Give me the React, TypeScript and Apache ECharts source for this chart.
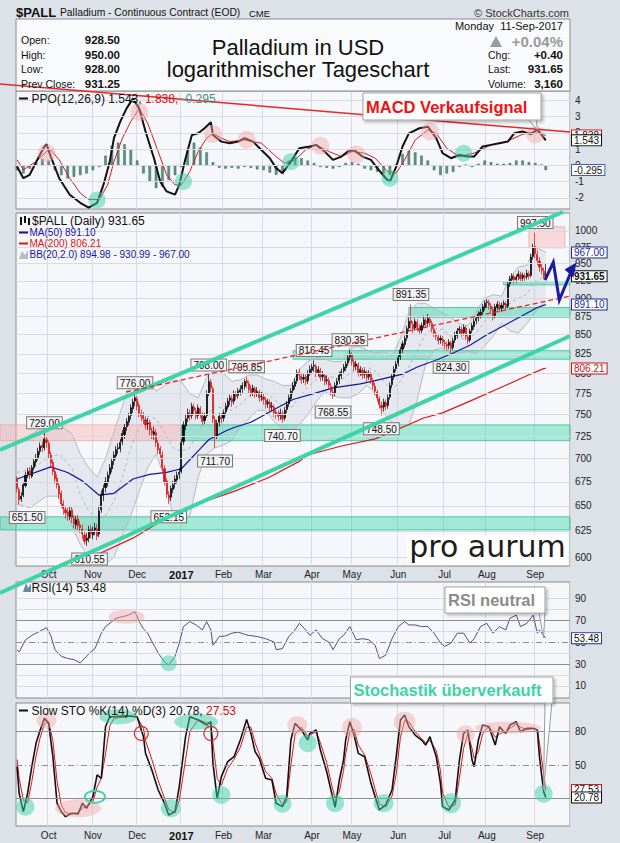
import React, { useEffect, useRef } from "react";
import * as echarts from "echarts";

// ---------- axis / tick data ----------
const SLOTS = 263; // 252 trading days (12-Sep-2016 .. 11-Sep-2017) + empty right margin
const monthIdx = [15, 36, 57, 78, 98, 117, 140, 159, 181, 203, 223, 246];
const monthLbl = ["Oct", "Nov", "Dec", "2017", "Feb", "Mar", "Apr", "May", "Jun", "Jul", "Aug", "Sep"];
const priceTicks = [600, 625, 650, 675, 700, 725, 750, 775, 800, 825, 850, 875, 900, 925, 950, 975, 1000];
const ppoTicks = [-2, -1, 0, 1, 2, 3, 4];
const rsiGrid = [10, 20, 30, 40, 50, 60, 70, 80, 90];
const rsiLabels = [10, 30, 50, 70, 90];
const stoLabels = [20, 50, 80];

// ---------- price candles [open, close, low, high] ----------
const candles: number[][] = [
  [678, 668, 664, 681], [667, 656, 651.5, 669], [657, 660, 654, 664], [661, 672, 659, 675], [671, 682, 669, 686],
  [683, 686, 679, 690], [687, 682, 678, 691], [681, 690, 679, 693], [690, 697, 687, 700], [696, 700, 692, 705],
  [701, 708, 698, 712], [708, 714, 704, 718], [715, 712, 707, 719], [712, 722, 709, 729], [721, 718, 712, 725],
  [717, 705, 700, 720], [704, 695, 690, 708], [696, 686, 682, 699], [686, 678, 673, 690], [679, 672, 668, 683],
  [671, 662, 657, 675], [663, 652, 648, 666], [652, 647, 641, 656], [646, 643, 637, 650], [644, 640, 635, 648],
  [639, 645, 636, 650], [646, 638, 633, 649], [637, 632, 628, 641], [631, 636, 627, 640], [637, 630, 626, 641],
  [631, 628, 623, 635], [627, 622, 617, 631], [621, 615, 612, 624], [616, 618, 610.55, 623], [618, 626, 614, 630],
  [627, 622, 618, 631],
  [621, 625, 617, 629], [626, 628, 621, 633], [627, 620, 616, 632], [622, 645, 619, 650], [646, 662, 643, 666],
  [661, 668, 655, 672], [669, 675, 664, 680], [674, 682, 670, 686], [683, 690, 679, 694], [689, 697, 685, 701],
  [698, 704, 693, 708], [703, 710, 699, 714], [711, 712, 705, 717], [711, 718, 707, 722], [719, 728, 715, 732],
  [727, 735, 722, 739], [736, 742, 731, 746], [741, 748, 737, 752], [749, 758, 744, 762], [757, 765, 752, 769],
  [766, 770, 760, 776],
  [769, 760, 755, 772], [761, 752, 747, 765], [751, 748, 742, 756], [749, 745, 739, 753], [744, 738, 733, 748],
  [739, 740, 732, 746], [741, 732, 726, 744], [731, 728, 722, 735], [727, 730, 721, 736], [729, 718, 713, 733],
  [717, 710, 705, 721], [711, 705, 700, 714], [704, 690, 686, 708], [689, 675, 671, 693], [676, 662, 658, 679],
  [661, 658, 652.15, 665], [659, 668, 655, 671], [667, 672, 663, 676], [673, 678, 668, 682], [677, 682, 673, 686],
  [683, 685, 678, 690],
  [686, 718, 684, 722], [719, 738, 715, 742], [737, 745, 732, 750], [746, 752, 741, 757], [751, 748, 743, 756],
  [749, 760, 745, 764], [759, 755, 750, 763], [754, 748, 744, 758], [749, 758, 745, 762], [757, 750, 746, 760],
  [749, 742, 738, 753], [743, 748, 739, 752], [749, 775, 746, 779], [776, 790, 772, 798], [789, 782, 777, 793],
  [781, 745, 740, 784], [744, 725, 711.7, 748], [726, 740, 722, 744], [741, 748, 736, 752], [747, 745, 740, 751],
  [746, 752, 742, 756], [753, 760, 749, 764], [759, 766, 756, 770], [767, 770, 761, 774], [769, 765, 759, 773],
  [766, 775, 762, 779], [774, 772, 767, 778], [773, 778, 769, 782], [777, 780, 773, 785], [781, 785, 776, 789],
  [784, 790, 780, 793], [791, 788, 782, 795.85], [787, 780, 775, 791], [781, 776, 771, 785], [777, 782, 772, 786],
  [781, 775, 770, 784], [776, 778, 771, 783], [777, 770, 765, 780], [771, 772, 766, 777],
  [771, 768, 762, 775], [767, 762, 757, 771], [763, 765, 758, 769], [764, 758, 753, 768], [759, 760, 754, 765],
  [759, 752, 747, 762], [753, 750, 745, 756], [751, 748, 743, 755], [749, 752, 744, 757], [751, 745, 740.7, 755],
  [746, 755, 743, 759], [756, 762, 752, 766], [763, 770, 759, 774], [769, 778, 766, 782], [779, 785, 774, 789],
  [784, 790, 780, 794], [791, 800, 787, 805], [801, 798, 792, 806], [797, 792, 787, 801], [793, 795, 788, 800],
  [796, 790, 785, 799], [791, 800, 787, 804], [801, 805, 797, 810],
  [804, 808, 799, 812], [809, 810, 802, 816.45], [809, 800, 795, 812], [801, 805, 796, 809], [804, 795, 790, 807],
  [796, 798, 791, 803], [797, 790, 785, 800], [791, 792, 786, 797], [791, 785, 780, 795], [784, 778, 773, 788],
  [777, 775, 768.55, 781], [776, 785, 772, 789], [786, 790, 782, 794], [791, 798, 787, 802], [797, 802, 793, 806],
  [803, 808, 799, 812], [807, 812, 803, 816], [813, 820, 809, 824], [821, 825, 816, 830.35],
  [824, 815, 810, 827], [814, 808, 803, 818], [809, 812, 804, 816], [811, 800, 796, 814], [801, 805, 797, 809],
  [804, 798, 793, 807], [799, 802, 794, 806], [801, 795, 790, 804], [796, 800, 792, 804], [799, 792, 787, 802],
  [791, 785, 780, 794], [784, 778, 773, 788], [777, 770, 765, 780], [769, 762, 757, 772], [761, 758, 748.5, 765],
  [759, 765, 754, 769], [764, 760, 755, 768], [761, 770, 757, 774], [771, 785, 768, 789], [786, 795, 782, 799],
  [796, 805, 792, 809], [806, 812, 802, 816],
  [813, 820, 809, 824], [821, 830, 817, 834], [831, 838, 826, 842], [837, 845, 833, 849], [846, 858, 842, 862],
  [859, 868, 854, 873], [869, 865, 858, 891.35], [864, 858, 852, 868], [859, 868, 855, 872], [867, 860, 855, 871],
  [859, 855, 850, 864], [856, 862, 852, 866], [863, 870, 859, 876], [869, 865, 860, 873], [866, 872, 862, 878],
  [871, 866, 861, 874], [865, 858, 853, 869], [857, 852, 847, 861], [851, 848, 843, 855], [847, 842, 837, 851],
  [843, 845, 838, 849], [844, 840, 835, 848],
  [839, 838, 832, 843], [837, 835, 829, 841], [836, 840, 831, 844], [839, 832, 824.3, 842], [833, 842, 830, 846],
  [843, 850, 839, 854], [849, 855, 845, 859], [856, 858, 851, 862], [857, 852, 847, 861], [853, 860, 849, 864],
  [859, 848, 843, 862], [847, 842, 837, 850], [843, 855, 840, 858], [856, 862, 852, 866], [861, 868, 857, 872],
  [869, 872, 864, 876], [873, 878, 868, 882], [877, 880, 872, 885], [881, 888, 877, 892], [887, 893, 883, 897],
  [894, 895, 887, 899], [894, 890, 884, 898], [889, 885, 879, 893], [884, 875, 869, 888], [876, 888, 872, 892],
  [887, 892, 883, 896], [891, 885, 880, 895], [886, 890, 881, 894], [891, 893, 886, 897], [892, 888, 883, 896],
  [889, 920, 886, 924], [921, 928, 916, 932], [927, 932, 923, 936], [931, 926, 921, 935], [927, 930, 922, 934],
  [931, 935, 926, 940], [934, 928, 923, 938], [929, 933, 924, 937], [932, 930, 925, 936], [931, 936, 927, 941],
  [935, 932, 927, 939], [933, 960, 930, 965], [961, 975, 956, 980],
  [976, 965, 958, 997.5], [964, 955, 948, 970], [954, 945, 938, 960], [944, 940, 934, 950], [939, 931.25, 927, 944],
  [928.5, 931.65, 928, 950],
];

// ---------- overlays: [day index, value] ----------
const ma50 = [[0, 678], [16, 691], [24, 685], [31, 676], [39, 661], [46, 663], [55, 678], [63, 683], [71, 685], [78, 689], [87, 711], [91, 721], [99, 731], [103, 735], [111, 741], [122, 756], [131, 768], [142, 776], [150, 782], [163, 787], [170, 791], [183, 799], [190, 808], [200, 818], [207, 826], [215, 836], [223, 850], [231, 862], [240, 876], [247, 887], [251, 891.1]];
const ma200 = [[22, 594], [31, 599], [40, 604], [55, 618], [63, 628], [71, 638], [79, 646], [87, 653], [95, 659], [103, 665], [119, 679], [134, 697], [138, 704], [154, 714], [170, 722], [179, 731], [193, 746], [202, 752], [215, 766], [231, 784], [242, 797], [250, 806], [251, 806.21]];
const bbUpper = [[0, 718], [6, 726], [14, 738], [20, 738], [26, 728], [30, 705], [34, 690], [38, 680], [42, 700], [46, 730], [50, 760], [54, 790], [58, 795], [62, 790], [66, 778], [70, 785], [74, 792], [78, 790], [82, 775], [86, 770], [90, 795], [94, 805], [98, 800], [102, 790], [106, 792], [110, 798], [114, 798], [118, 793], [122, 790], [126, 785], [130, 785], [134, 805], [138, 815], [142, 820], [146, 818], [150, 815], [154, 815], [158, 832], [162, 835], [166, 830], [170, 826], [174, 828], [178, 822], [182, 845], [186, 880], [190, 893], [194, 893], [198, 885], [202, 880], [206, 873], [210, 865], [214, 862], [218, 882], [222, 900], [226, 905], [230, 903], [234, 930], [238, 945], [242, 948], [246, 975], [251, 967]];
const bbLower = [[0, 652], [6, 648], [14, 660], [20, 660], [26, 630], [30, 612], [34, 600], [38, 596], [42, 593], [46, 600], [50, 620], [54, 640], [58, 665], [62, 690], [66, 705], [70, 680], [74, 640], [78, 632], [82, 640], [86, 680], [90, 705], [94, 712], [98, 715], [102, 720], [106, 735], [110, 745], [114, 755], [118, 755], [122, 742], [126, 733], [130, 730], [134, 738], [138, 750], [142, 765], [146, 778], [150, 772], [154, 770], [158, 770], [162, 775], [166, 785], [170, 775], [174, 752], [178, 740], [182, 735], [186, 738], [190, 768], [194, 812], [198, 830], [202, 832], [206, 825], [210, 826], [214, 828], [218, 825], [222, 835], [226, 848], [230, 865], [234, 855], [238, 852], [242, 865], [246, 880], [251, 895]];
const bbMid = [[0, 685], [8, 690], [14, 700], [20, 705], [26, 690], [30, 662], [34, 645], [38, 637], [42, 640], [46, 655], [50, 680], [54, 712], [58, 735], [62, 748], [66, 745], [70, 730], [74, 712], [78, 708], [82, 712], [86, 730], [90, 750], [94, 760], [98, 757], [102, 755], [106, 762], [110, 772], [114, 777], [118, 776], [122, 768], [126, 760], [130, 758], [134, 770], [138, 783], [142, 792], [146, 798], [150, 795], [154, 792], [158, 800], [162, 806], [166, 808], [170, 803], [174, 790], [178, 780], [182, 790], [186, 808], [190, 830], [194, 852], [198, 858], [202, 857], [206, 848], [210, 845], [214, 845], [218, 852], [222, 868], [226, 877], [230, 884], [234, 893], [238, 900], [242, 906], [246, 925], [251, 931]];

// ---------- PPO(12,26,9) ----------
const ppoLine = [[0, -0.07], [3, -0.79], [6, -0.58], [10, 0.44], [13, 1.16], [14, 1.3], [16, 0.54], [20, -0.79], [25, -1.8], [30, -2.3], [34, -2.6], [38, -2.3], [41, -1.2], [44, 0.23], [46, 1.67], [49, 2.69], [52, 3.5], [55, 4.1], [58, 3.5], [61, 2.08], [65, 0.44], [68, -1.0], [71, -1.6], [75, -1.8], [77, -1.2], [80, 0.44], [83, 1.87], [86, 1.97], [89, 2.28], [92, 2.65], [93, 1.87], [97, 1.46], [101, 1.36], [105, 1.46], [108, 1.67], [112, 1.46], [116, 0.95], [120, 0.44], [123, -0.17], [126, -0.48], [130, 0.23], [134, 1.05], [139, 1.16], [142, 1.26], [146, 0.85], [150, 0.34], [154, 0.54], [157, 0.85], [160, 0.95], [164, 0.54], [168, 0.34], [171, -0.17], [175, -0.79], [177, -1.0], [180, -0.07], [183, 1.16], [186, 1.97], [191, 2.28], [195, 2.38], [199, 1.67], [202, 0.75], [206, 0.44], [210, 0.64], [214, 0.54], [217, 0.54], [221, 1.16], [225, 1.26], [229, 1.36], [233, 1.46], [236, 1.97], [240, 2.08], [244, 1.91], [247, 2.22], [249, 1.87], [251, 1.543]];
const ppoSignal = [[0, 0.34], [3, -0.27], [9, 0.23], [14, 0.85], [16, 0.95], [20, 0.34], [25, -0.79], [30, -1.7], [34, -2.1], [39, -2.1], [43, -1.2], [46, 0.23], [50, 1.67], [54, 2.7], [58, 3.5], [62, 2.59], [67, 0.85], [71, -0.58], [75, -1.2], [78, -1.2], [82, -0.38], [86, 0.85], [90, 1.67], [93, 1.97], [97, 1.67], [101, 1.46], [108, 1.56], [116, 1.36], [123, 0.54], [127, 0.13], [132, 0.34], [137, 0.95], [142, 1.26], [148, 0.85], [154, 0.54], [159, 0.85], [165, 0.75], [170, 0.44], [176, -0.38], [180, -0.48], [184, 0.34], [189, 1.56], [195, 2.18], [199, 1.97], [204, 1.05], [210, 0.54], [217, 0.75], [225, 1.26], [233, 1.5], [240, 1.91], [246, 2.08], [251, 1.838]];
const ppoHist = [[0, -0.3], [3, -0.5], [6, -0.2], [9, 0.2], [12, 0.4], [15, 0.3], [18, -0.3], [21, -0.6], [24, -0.8], [27, -0.7], [30, -0.6], [33, -0.5], [36, -0.3], [39, -0.1], [42, 0.6], [45, 1.2], [48, 1.4], [51, 1.3], [54, 1.0], [57, 0.3], [60, -0.5], [63, -1.0], [66, -1.4], [69, -1.3], [72, -0.9], [75, -0.6], [78, -0.1], [81, 1.0], [84, 1.4], [87, 1.1], [90, 0.8], [93, 0.2], [96, -0.15], [99, -0.2], [102, -0.15], [105, -0.2], [108, -0.1], [111, -0.15], [114, -0.25], [117, -0.3], [120, -0.45], [123, -0.58], [126, -0.5], [129, 0.3], [132, 0.5], [135, 0.45], [138, 0.3], [141, 0.15], [144, -0.1], [147, -0.15], [150, -0.2], [153, -0.1], [156, 0.15], [159, 0.2], [162, 0.1], [165, -0.2], [168, -0.3], [171, -0.4], [174, -0.5], [177, -0.6], [180, 0.05], [183, 0.7], [186, 0.9], [189, 0.8], [192, 0.6], [195, 0.3], [198, -0.3], [201, -0.6], [204, -0.5], [207, -0.4], [210, -0.1], [213, 0.05], [216, -0.1], [219, 0.1], [222, 0.3], [225, 0.2], [228, 0.1], [231, 0.1], [234, 0.15], [237, 0.3], [240, 0.3], [243, 0.2], [246, 0.15], [249, 0.05], [251, -0.295]];

// ---------- RSI(14) ----------
const rsi = [[0, 42.7], [1, 41], [4, 52], [7, 56], [10, 59], [13, 62], [14, 63], [16, 56], [18, 43], [21, 37], [24, 35], [27, 34], [30, 31], [32, 35], [35, 41], [37, 44], [40, 58], [42, 64], [45, 68.5], [47, 71.5], [50, 73], [53, 74.5], [56, 77.6], [58, 68.5], [60, 62], [62, 58], [65, 47], [67, 40], [70, 32], [72, 29], [75, 37], [77, 49], [79, 64], [82, 68.5], [85, 65.5], [88, 61], [90, 68.5], [92, 61], [93, 47], [96, 55], [99, 55.5], [102, 58], [105, 59], [108, 57], [110, 56], [114, 55], [118, 53], [122, 50], [123, 43], [126, 44], [129, 55], [132, 61], [134, 67], [137, 61], [139, 56], [142, 61], [145, 53], [148, 50], [150, 43], [153, 53], [155, 56], [158, 64], [161, 52], [164, 53], [167, 52], [170, 47], [172, 35], [175, 38], [178, 53], [181, 64], [184, 68.5], [186, 65.5], [189, 65.5], [192, 64], [195, 64], [198, 58], [201, 49], [203, 46], [206, 49], [209, 58], [212, 58], [215, 49], [217, 53], [220, 64], [223, 67], [226, 58], [229, 64], [232, 61], [234, 71.5], [237, 74.5], [239, 64], [242, 67], [245, 74.5], [247, 58], [248, 61], [251, 53.48]];

// ---------- Slow STO %K(14) %D(3) ----------
const stoK = [[0, 48.5], [1, 24.5], [3, 8], [5, 24.5], [7, 48.5], [9, 69.5], [11, 81.5], [13, 92], [15, 87.5], [17, 57.5], [19, 15.5], [21, 8], [23, 3.5], [26, 6.5], [29, 6], [31, 15.5], [33, 11], [36, 21.5], [38, 41], [40, 38], [42, 84.5], [44, 93.5], [46, 93.5], [50, 94], [54, 94], [57, 93.5], [60, 75.5], [61, 60.5], [64, 45.5], [67, 27.5], [70, 15.5], [72, 5], [75, 8], [77, 30.5], [80, 75.5], [82, 93.5], [86, 90.5], [90, 86], [92, 89], [93, 51.5], [95, 20], [97, 39.5], [100, 53], [103, 57.5], [106, 72.5], [109, 91], [111, 78.5], [113, 62], [115, 56], [118, 38], [121, 36.5], [123, 15.5], [126, 12.5], [128, 21.5], [130, 72.5], [132, 87.5], [135, 81.5], [138, 72.5], [139, 78.5], [142, 81.5], [144, 63.5], [147, 44], [149, 27.5], [151, 12], [153, 36.5], [155, 54.5], [156, 72.5], [158, 89], [160, 77], [162, 60.5], [165, 57.5], [168, 33.5], [170, 21.5], [172, 9.5], [175, 14], [178, 27.5], [180, 57.5], [182, 90.5], [184, 95], [186, 84.5], [189, 77], [192, 72.5], [194, 68], [196, 75.5], [199, 57.5], [201, 33.5], [202, 12.5], [205, 9.5], [208, 18.5], [210, 54.5], [212, 78.5], [214, 81.5], [216, 54.5], [217, 48.5], [219, 72.5], [221, 86], [224, 84.5], [227, 68], [229, 84.5], [232, 78.5], [234, 86], [237, 89], [239, 80], [242, 83], [245, 83], [247, 81.5], [248, 57.5], [250, 26], [251, 20.78]];
const stoD = [[0, 55], [1, 38], [3, 18], [5, 16], [7, 35], [9, 58], [11, 75], [13, 87], [15, 89], [17, 72], [19, 35], [21, 14], [23, 7], [26, 6], [29, 7], [31, 11], [33, 13], [36, 17], [38, 30], [40, 38], [42, 60], [44, 85], [46, 92], [50, 93], [54, 94], [57, 93], [60, 83], [61, 72], [64, 55], [67, 36], [70, 20], [72, 10], [75, 7], [77, 18], [80, 55], [82, 80], [86, 91], [90, 88], [92, 88], [93, 70], [95, 38], [97, 32], [100, 47], [103, 55], [106, 66], [109, 84], [111, 84], [113, 70], [115, 60], [118, 44], [121, 38], [123, 24], [126, 14], [128, 17], [130, 50], [132, 78], [135, 84], [138, 76], [139, 77], [142, 80], [144, 70], [147, 52], [149, 35], [151, 20], [153, 26], [155, 45], [156, 60], [158, 80], [160, 82], [162, 68], [165, 59], [168, 42], [170, 28], [172, 15], [175, 12], [178, 22], [180, 42], [182, 75], [184, 90], [186, 89], [189, 80], [192, 74], [194, 70], [196, 72], [199, 63], [201, 45], [202, 25], [205, 12], [208, 14], [210, 38], [212, 65], [214, 78], [216, 65], [217, 56], [219, 62], [221, 78], [224, 85], [227, 75], [229, 78], [232, 80], [234, 83], [237, 87], [239, 84], [242, 82], [245, 83], [247, 82], [248, 70], [250, 42], [251, 27.53]];

// ---------- labelled highs / lows ----------
const peakLabels = [[13, 729, "729.00"], [56, 776, "776.00"], [91, 798, "798.00"], [109, 795.85, "795.85"], [141, 816.45, "816.45"], [158, 830.35, "830.35"], [187, 891.35, "891.35"], [246, 997.5, "997.50"]];
const troughLabels = [[1, 651.5, "651.50"], [33, 610.55, "610.55"], [72, 652.15, "652.15"], [94, 711.7, "711.70"], [126, 740.7, "740.70"], [150, 768.55, "768.55"], [173, 748.5, "748.50"], [206, 824.3, "824.30"]];

// ---------- annotation circles: [day index, value, rx, ry] ----------
const ppoPink = [[14, 0.75], [58, 3.3], [93, 1.93], [109, 1.57], [144, 1.2], [161, 0.69], [196, 2.08], [246, 1.9]];
const ppoTeal = [[38, -2.12], [79, -0.99], [130, 0.23], [177, -0.79], [212, 0.75]];
const stoTeal = [[4, 12.4, 9, 9], [73, 11, 10, 9], [97, 23, 9, 9], [126, 15, 9, 9], [151, 15.5, 9, 9], [174, 15.5, 10, 9], [206, 15.5, 10, 10], [250, 24, 9, 9], [138, 69.5, 9, 9], [48, 93.5, 19, 7.5], [85, 89, 22, 8]];
const stoPink = [[14, 90, 10, 8], [29, 11, 23, 9], [133, 86, 10, 9], [159, 83.6, 10, 10], [184, 89, 11, 10], [213, 77.7, 9, 9], [233, 83.6, 33, 6]];
const zones = [
  // [low price, high price, from index (-1 = left edge), to index (-1 = right edge), kind]
  [626, 639, -1, -1, "teal"],
  [720, 738, -1, 78, "pink"],
  [720, 738, 78, -1, "teal"],
  [818, 829, 131, -1, "teal"],
  [873.6, 887, 186, -1, "teal"],
  [919, 923.7, 231, -1, "teal"],
  [974, 1006.7, 243, 260, "pink"],
];

const FONT = "'Liberation Sans', Arial, sans-serif";
const GRID_C = "#d7dbe2";
const TEAL = "#3fd3a8";

function helperLines(gi: number, items: any[], z = 0) {
  return {
    type: "line", xAxisIndex: gi, yAxisIndex: gi, data: [], z, silent: true,
    markLine: {
      silent: true, symbol: "none", animation: false,
      label: { position: "end", formatter: "{b}", color: "#222", fontSize: 10, fontFamily: FONT, distance: 5 },
      lineStyle: { color: GRID_C, width: 1, type: "solid" },
      data: items,
    },
  };
}
function tag(v: number, text: string, border: string, color = "#111", bold = false) {
  return {
    yAxis: v, name: text,
    lineStyle: { color: "transparent", width: 0 },
    label: {
      position: "end", distance: 2, formatter: "{b}", color, fontSize: 10, fontFamily: FONT, lineHeight: 10,
      fontWeight: bold ? "bold" : "normal", backgroundColor: "#ffffff", borderColor: border, borderWidth: 1,
      padding: [0, 2, 0, 2],
    },
  };
}

export default function App() {
  const ref = useRef<HTMLDivElement>(null);
  useEffect(() => {
    if (!ref.current) return;
    const chart = echarts.init(ref.current, null, { renderer: "svg" });
    const cats = Array.from({ length: SLOTS }, (_, i) => String(i));
    const mSet = new Set(monthIdx);
    const grids = [
      { top: 91, height: 118 },
      { top: 213, height: 353 },
      { top: 582, height: 116 },
      { top: 703, height: 123 },
    ].map((g) => ({ left: 16, width: 554, ...g, show: true, backgroundColor: "#f6f7fa", borderColor: "#8a8a8a", borderWidth: 1 }));

    const xAxes = [0, 1, 2, 3].map((gi) => ({
      type: "category", gridIndex: gi, data: cats, boundaryGap: true,
      axisLine: { show: false }, axisTick: { show: false },
      axisLabel: {
        show: gi === 1 || gi === 3, interval: (i: number) => mSet.has(i), margin: gi === 1 ? 3 : 4,
        color: "#222", fontSize: 10, fontFamily: FONT,
        formatter: (_v: string, i: number) => {
          const k = monthIdx.indexOf(i);
          if (k < 0) return "";
          return monthLbl[k] === "2017" ? "{b|2017}" : monthLbl[k];
        },
        rich: { b: { fontWeight: "bold", fontSize: 11, color: "#111", fontFamily: FONT } },
      },
      splitLine: { show: true, interval: (i: number) => mSet.has(i), lineStyle: { color: GRID_C, width: 1 } },
    }));
    const hiddenY = { axisLabel: { show: false }, splitLine: { show: false }, axisLine: { show: false }, axisTick: { show: false } };
    const yAxes = [
      { type: "value", gridIndex: 0, min: -2.68, max: 4.57, ...hiddenY },
      { type: "log", gridIndex: 1, min: 591.6, max: 1028.6, logBase: 10, ...hiddenY },
      { type: "value", gridIndex: 2, min: -0.91, max: 104.55, ...hiddenY },
      { type: "value", gridIndex: 3, min: -4.95, max: 105.86, ...hiddenY },
    ];

    const darkLine = { color: "#8f8f8f", width: 1, type: "solid" };
    const dashDot = { color: "#8f8f8f", width: 1, type: [6, 3, 1, 3] };

    const series: any[] = [
      // ----- PPO panel -----
      helperLines(0, ppoTicks.map((v) => ({ yAxis: v, name: String(v) }))),
      { type: "bar", xAxisIndex: 0, yAxisIndex: 0, data: ppoHist, barWidth: 2.6, itemStyle: { color: "#5e9484", borderColor: "#3d6b5e", borderWidth: 0.5 }, z: 2 },
      { type: "line", xAxisIndex: 0, yAxisIndex: 0, data: ppoSignal, showSymbol: false, lineStyle: { color: "#d91a1a", width: 1 }, z: 3 },
      { type: "line", xAxisIndex: 0, yAxisIndex: 0, data: ppoLine, showSymbol: false, lineStyle: { color: "#111", width: 2 }, z: 4 },
      {
        type: "line", xAxisIndex: 0, yAxisIndex: 0, data: [], z: 8, silent: true,
        markLine: { silent: true, symbol: "none", animation: false, data: [tag(1.838, "1.838", "#d01010"), tag(1.543, "1.543", "#111"), tag(-0.295, "-0.295", "#4a5ab0")] },
      },
      // ----- price panel -----
      helperLines(1, priceTicks.map((v) => ({ yAxis: v, name: String(v) }))),
      {
        type: "custom", xAxisIndex: 1, yAxisIndex: 1, z: 1, silent: true, data: [[0, 700]],
        renderItem: (_p: any, api: any) => {
          const pts: number[][] = [];
          bbUpper.forEach((d) => pts.push(api.coord(d)));
          for (let k = bbLower.length - 1; k >= 0; k--) pts.push(api.coord(bbLower[k]));
          return { type: "polygon", shape: { points: pts }, style: { fill: "rgba(186,194,212,0.28)" } };
        },
      },
      { type: "line", xAxisIndex: 1, yAxisIndex: 1, data: bbUpper, showSymbol: false, lineStyle: { color: "#b5b9c2", width: 1 }, z: 2 },
      { type: "line", xAxisIndex: 1, yAxisIndex: 1, data: bbLower, showSymbol: false, lineStyle: { color: "#b5b9c2", width: 1 }, z: 2 },
      { type: "line", xAxisIndex: 1, yAxisIndex: 1, data: bbMid, showSymbol: false, lineStyle: { color: "#b0b4bc", width: 1, type: [3, 3] }, z: 2 },
      { type: "line", xAxisIndex: 1, yAxisIndex: 1, data: ma200, showSymbol: false, lineStyle: { color: "#e01515", width: 1.2 }, z: 3 },
      { type: "line", xAxisIndex: 1, yAxisIndex: 1, data: ma50, showSymbol: false, lineStyle: { color: "#15159c", width: 1.2 }, z: 3 },
      {
        type: "candlestick", xAxisIndex: 1, yAxisIndex: 1, data: candles, barWidth: 1.6, z: 4,
        itemStyle: { color: "#000", color0: "#e01010", borderColor: "#000", borderColor0: "#e01010", borderWidth: 0.7 },
        markPoint: {
          silent: true, animation: false, symbol: "rect", symbolSize: 1, itemStyle: { color: "transparent" },
          label: {
            show: true, formatter: "{b}", color: "#111", fontSize: 10, fontFamily: FONT, lineHeight: 10,
            backgroundColor: "#f4f4f4", borderColor: "#777", borderWidth: 1, padding: [1, 2, 0, 2],
          },
          data: [
            ...peakLabels.map((d) => ({ name: d[2], coord: [d[0], d[1]], label: { position: "top", distance: 4 } })),
            ...troughLabels.map((d) => ({ name: d[2], coord: [d[0], d[1]], label: { position: "bottom", distance: 7, offset: [d[0] === 1 ? 8 : d[0] === 33 ? 3 : 0, 0] } })),
          ],
        },
      },
      {
        type: "line", xAxisIndex: 1, yAxisIndex: 1, data: [], z: 8, silent: true,
        markLine: {
          silent: true, symbol: "none", animation: false,
          data: [tag(967, "967.00", "#1a2a9c", "#1a2a9c"), tag(931.65, "931.65", "#111", "#111", true), tag(891.1, "891.10", "#1a2a9c", "#1a2a9c"), tag(806.21, "806.21", "#d01010", "#d01010")],
        },
      },
      // ----- RSI panel -----
      helperLines(2, rsiGrid.map((v) => ({
        yAxis: v, name: rsiLabels.includes(v) ? String(v) : "",
        lineStyle: v === 70 || v === 30 ? darkLine : v === 50 ? dashDot : { color: GRID_C, width: 1 },
      }))),
      { type: "line", xAxisIndex: 2, yAxisIndex: 2, data: rsi, showSymbol: false, lineStyle: { color: "#4f4f8c", width: 1 }, z: 3 },
      {
        type: "line", xAxisIndex: 2, yAxisIndex: 2, data: [], z: 8, silent: true,
        markLine: { silent: true, symbol: "none", animation: false, data: [tag(53.48, "53.48", "#2a3aa0")] },
      },
      // ----- STO panel -----
      helperLines(3, stoLabels.map((v) => ({ yAxis: v, name: String(v), lineStyle: v === 50 ? dashDot : darkLine }))),
      { type: "line", xAxisIndex: 3, yAxisIndex: 3, data: stoD, showSymbol: false, lineStyle: { color: "#e01515", width: 1 }, z: 3 },
      { type: "line", xAxisIndex: 3, yAxisIndex: 3, data: stoK, showSymbol: false, lineStyle: { color: "#111", width: 1.6 }, z: 4 },
      {
        type: "line", xAxisIndex: 3, yAxisIndex: 3, data: [], z: 8, silent: true,
        markLine: { silent: true, symbol: "none", animation: false, data: [tag(27.53, "27.53", "#d01010"), tag(20.78, "20.78", "#111")] },
      },
    ];

    chart.setOption({ animation: false, grid: grids, xAxis: xAxes, yAxis: yAxes, series });

    // ---------- graphics (header, legends, annotations) ----------
    const P = (g: number, i: number, v: number) => chart.convertToPixel({ gridIndex: g } as any, [i, v]) as number[];
    const g: any[] = [];
    const T = (x: number, y: number, text: string, o: any = {}) =>
      g.push({ type: "text", x, y, z: 120, silent: true, style: { text, fill: o.fill || "#111", fontSize: o.size || 11, fontFamily: o.family || FONT, fontWeight: o.weight || "normal", align: o.align || "left", verticalAlign: "middle" } });
    const L = (pts: number[][], stroke: string, w: number, o: any = {}) =>
      g.push({ type: "polyline", z: o.z || 110, silent: true, shape: { points: pts }, style: { stroke, lineWidth: w, fill: "none", lineDash: o.dash, opacity: o.opacity ?? 1 } });

    // header
    g.push({ type: "rect", z: 5, silent: true, shape: { x: 16, y: 19, width: 554, height: 72 }, style: { fill: "#f9fafc", stroke: "#8a8a8a", lineWidth: 1 } });
    T(16, 12, "$PALL", { size: 13, weight: "bold" });
    T(60, 12.5, "Palladium - Continuous Contract (EOD)", { size: 10.3 });
    T(249, 13, "CME", { size: 9.5 });
    T(569, 12.5, "© StockCharts.com", { size: 11, align: "right", fill: "#333" });
    T(298, 47, "Palladium in USD", { size: 22, align: "center" });
    T(298, 69.5, "logarithmischer Tageschart", { size: 22, align: "center" });
    const leftRows = [["Open:", "928.50"], ["High:", "950.00"], ["Low:", "928.00"], ["Prev Close:", "931.25"]];
    const rightRows = [["Chg:", "+0.40"], ["Last:", "931.65"], ["Volume:", "3,160"]];
    leftRows.forEach((r, k) => { T(21, 40 + k * 14.5, r[0], { size: 10.5 }); T(120, 40 + k * 14.5, r[1], { size: 11.5, weight: "bold", align: "right" }); });
    rightRows.forEach((r, k) => { T(488, 54.5 + k * 14.5, r[0], { size: 10.5 }); T(563, 54.5 + k * 14.5, r[1], { size: 11.5, weight: "bold", align: "right" }); });
    T(563, 25.5, "Monday  11-Sep-2017", { size: 11, align: "right" });
    T(563, 41.5, "+0.04%", { size: 15, weight: "bold", align: "right", fill: "#9a9a9a" });
    g.push({ type: "polygon", z: 120, silent: true, shape: { points: [[490, 47], [502, 47], [496, 36]] }, style: { fill: "#9a9a9a" } });

    // panel legends
    L([[19, 98.5], [28, 98.5]], "#111", 2, { z: 120 });
    g.push({ type: "text", x: 31.5, y: 98.5, z: 120, silent: true, style: { text: "{a|PPO(12,26,9) 1.543, }{r|1.838, }{t|-0.295}", verticalAlign: "middle", rich: { a: { fill: "#111", fontSize: 12, fontFamily: FONT }, r: { fill: "#d01010", fontSize: 12, fontFamily: FONT }, t: { fill: "#3a9a80", fontSize: 12, fontFamily: FONT } } } });
    // price legend
    g.push({ type: "rect", z: 120, silent: true, shape: { x: 20, y: 217, width: 2, height: 8 }, style: { fill: "#111" } });
    g.push({ type: "rect", z: 120, silent: true, shape: { x: 24, y: 216, width: 2, height: 7 }, style: { fill: "#111" } });
    g.push({ type: "rect", z: 120, silent: true, shape: { x: 28, y: 218, width: 2, height: 7 }, style: { fill: "#111" } });
    T(32, 221, "$PALL (Daily) 931.65", { size: 12 });
    L([[19, 232.5], [28, 232.5]], "#15159c", 2, { z: 120 });
    T(29.5, 232.5, "MA(50) 891.10", { size: 10, fill: "#15159c" });
    L([[19, 243.5], [28, 243.5]], "#e01515", 2, { z: 120 });
    T(29.5, 243.5, "MA(200) 806.21", { size: 10, fill: "#e01515" });
    g.push({ type: "polygon", z: 120, silent: true, shape: { points: [[19, 259], [22, 251], [25, 255], [28, 250], [28, 259]] }, style: { fill: "#b8bcc6" } });
    T(29.5, 254.5, "BB(20,2.0) 894.98 - 930.99 - 967.00", { size: 10, fill: "#15159c" });
    // RSI legend
    g.push({ type: "polygon", z: 120, silent: true, shape: { points: [[23, 592], [26, 583], [28, 588], [31, 584], [31, 592]] }, style: { fill: "#6a86a0" } });
    T(31.5, 587.5, "RSI(14) 53.48", { size: 12 });
    // STO legend
    L([[19, 710.5], [28, 710.5]], "#111", 2, { z: 120 });
    g.push({ type: "text", x: 31.5, y: 710.5, z: 120, silent: true, style: { text: "{a|Slow STO %K(14) %D(3) 20.78, }{r|27.53}", verticalAlign: "middle", rich: { a: { fill: "#111", fontSize: 12, fontFamily: FONT }, r: { fill: "#d01010", fontSize: 12, fontFamily: FONT } } } });

    // price zones
    zones.forEach((zn: any[]) => {
      const yHi = P(1, 0, zn[1])[1];
      const yLo = P(1, 0, zn[0])[1];
      const x0 = zn[2] < 0 ? 0 : P(1, zn[2], zn[1])[0];
      const x1 = zn[3] < 0 ? 570 : P(1, zn[3], zn[1])[0];
      const pink = zn[4] === "pink";
      g.push({ type: "rect", z: 1, silent: true, shape: { x: x0, y: yHi, width: x1 - x0, height: yLo - yHi }, style: { fill: pink ? "rgba(248,180,180,0.45)" : "rgba(64,212,170,0.45)", stroke: pink ? "rgba(235,150,150,0.6)" : "rgba(40,190,150,0.75)", lineWidth: 1 } });
    });

    // trend channel, resistance, PPO trend
    L([[0, 450], [563, 212]], TEAL, 4);
    L([[0, 593], [570, 336]], TEAL, 4);
    L([[126, 392], [570, 296]], "#e8262a", 1.3, { dash: [5, 3] });
    L([[0, 84], [570, 132]], "#e8262a", 1.5);
    // blue zigzag arrow
    L([[545, 280], [553.3, 262.3], [559.3, 300], [571, 272]], "#1b1ba0", 3);
    g.push({ type: "polygon", z: 111, silent: true, shape: { points: [[576.5, 262.5], [564.5, 269.5], [573.5, 277.5]] }, style: { fill: "#1b1ba0" } });

    // pro aurum logo
    g.push({ type: "rect", z: 90, silent: true, shape: { x: 407, y: 535, width: 161, height: 30 }, style: { fill: "#ffffff" } });
    T(487.5, 546, "pro aurum", { size: 30, align: "center", family: "'DejaVu Sans', sans-serif", fill: "#1d1d1d" });

    // indicator circles
    const circ = (x: number, y: number, rx: number, ry: number, fill: string, stroke = "none", lw = 0) =>
      g.push({ type: "ellipse", z: 105, silent: true, shape: { cx: x, cy: y, rx, ry }, style: { fill, stroke, lineWidth: lw } });
    const PINKF = "rgba(245,165,165,0.45)";
    const TEALF = "rgba(60,210,165,0.5)";
    ppoPink.forEach((d) => { const p = P(0, d[0], d[1]); circ(p[0], p[1], 9, 9, PINKF); });
    ppoTeal.forEach((d) => { const p = P(0, d[0], d[1]); circ(p[0], p[1], 8.5, 8.5, TEALF); });
    { const p = P(2, 52, 73); circ(p[0], p[1], 18, 7, PINKF); }
    { const p = P(2, 72, 30.6); circ(p[0], p[1], 8, 8, TEALF); }
    stoTeal.forEach((d) => { const p = P(3, d[0], d[1]); circ(p[0], p[1], d[2], d[3], TEALF); });
    stoPink.forEach((d) => { const p = P(3, d[0], d[1]); circ(p[0], p[1], d[2], d[3], PINKF); });
    { const p = P(3, 37, 21.4); circ(p[0], p[1], 10, 6, "none", TEAL, 2); }
    { const p = P(3, 59, 78.5); circ(p[0], p[1], 7, 7, "none", "#e02020", 1.2); }
    { const p = P(3, 92, 78.5); circ(p[0], p[1], 7, 7, "none", "#e02020", 1.2); }

    // callout boxes
    const box = (x: number, y: number, w: number, h: number, text: string, fill: string, tip: number[][]) => {
      g.push({ type: "polygon", z: 114, silent: true, shape: { points: tip }, style: { fill: "#ffffff", stroke: "#9a9a9a", lineWidth: 1 } });
      g.push({ type: "rect", z: 115, silent: true, shape: { x, y, width: w, height: h }, style: { fill: "#ffffff", stroke: "#a0a0a0", lineWidth: 1, shadowBlur: 3, shadowOffsetX: 2, shadowOffsetY: 2, shadowColor: "rgba(0,0,0,0.25)" } });
      g.push({ type: "text", z: 116, silent: true, x: x + 3, y: y + h / 2, style: { text, fill, fontSize: 16.5, fontWeight: "bold", fontFamily: FONT, verticalAlign: "middle" } });
    };
    box(363, 93, 178, 27, "MACD Verkaufsignal", "#ee1111", [[528, 119], [537.5, 130], [536, 119]]);
    box(445, 587, 100, 26, "RSI neutral", "#8c8c8c", [[539, 612], [543.5, 638], [545, 612]]);
    box(350.5, 677, 202.5, 26, "Stochastik überverkauft", "#3dd3a4", [[545, 702], [543.5, 790], [552, 702]]);

    chart.setOption({ graphic: g });
    return () => chart.dispose();
  }, []);
  return (
    <div
      ref={ref}
      style={{ position: "absolute", left: 0, top: 0, width: 620, height: 843, background: "#dde1e8" }}
    />
  );
}
